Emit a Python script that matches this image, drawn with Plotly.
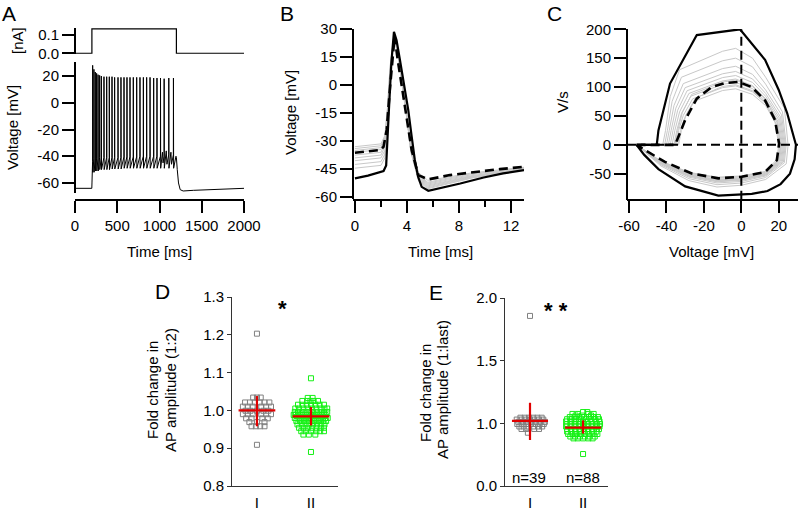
import plotly.graph_objects as go

W, H = 798, 509
def PX(x): return x / W
def PY(y): return 1 - y / H

FONT = "Liberation Sans, Arial, sans-serif"
RED = "#e00000"
GRAY_PT = "#808080"
GREEN_PT = "#16f016"
GRAY_LN = "#c8c8c8"

# ---------------- data ----------------
# Panel A: injected current (nA)
a_cur_t = [0, 200, 200, 1200, 1200, 2000]
a_cur_i = [0, 0, 0.133, 0.133, 0, 0]

# Panel A: membrane voltage (ms, mV)
a_t = [0, 199, 201, 205,
       208, 209, 211, 223, 224, 226, 239, 240, 242, 255, 256, 258, 272, 273, 275,
       291, 292, 294, 311, 312, 314, 342, 343, 345, 374, 375, 377, 405, 406, 408,
       437, 438, 440, 468, 469, 471, 508, 509, 511, 543, 544, 546, 579, 580, 582,
       614, 615, 617, 650, 651, 653, 689, 690, 692, 729, 730, 732, 768, 769, 771,
       808, 809, 811, 847, 848, 850, 887, 888, 890, 930, 931, 933, 969, 970, 972,
       1011, 1012, 1014, 1035, 1042,
       1054, 1055, 1057, 1080, 1088,
       1109, 1110, 1112, 1135, 1142,
       1164, 1165, 1167,
       1195, 1200, 1210, 1225, 1245, 1280, 1400, 1700, 2000]
a_v = [-64, -64, -60, -54,
       -44, 28, -52, -42, 25, -52, -42, 23, -51, -42, 22, -51, -42, 21, -51,
       -41, 20.5, -50, -41, 20, -50, -41, 19.5, -50, -41, 19.5, -50, -41, 19.5, -50,
       -41, 19.5, -49.5, -41, 19, -49.5, -41, 19, -49.5, -41, 19, -49.5, -40.5, 19, -49,
       -40.5, 19, -49, -40.5, 19, -49, -40.5, 19, -49, -40.5, 19, -49, -40, 19, -49,
       -40, 19, -49, -40, 19, -49, -40, 19, -49, -40, 18.5, -49, -40, 18.5, -49,
       -40, 18.5, -49, -37, -45,
       -40, 18, -49, -36, -46,
       -39, 18.5, -49, -37, -46,
       -39, 18.5, -49,
       -40, -41, -50, -60, -65, -66, -65.5, -64.5, -64]

# Panel B: first AP (solid), mean (dashed), individual later APs (gray)
b_first_t = [0, 1.0, 2.2, 2.4, 2.6, 2.8, 3.0, 3.2, 3.46, 3.8, 4.1, 4.35, 4.6, 4.85, 5.13, 5.64, 6.5, 8.1, 9.9, 11.4, 13]
b_first_v = [-50, -48.5, -46, -43, -15, 12, 28.5, 24, 13.4, 0, -13.4, -27, -40, -49, -54.5, -56.6, -55.3, -52.7, -49.5, -47.3, -45.5]
b_mean_t = [0, 1.95, 2.2, 2.44, 2.7, 2.95, 3.05, 3.3, 3.85, 4.36, 4.87, 5.64, 7.3, 9.36, 11.15, 13]
b_mean_v = [-36.2, -34.8, -33, -24, -1, 22, 26, 13, -11.6, -34.8, -48.2, -50.5, -48.2, -46.4, -45, -43.8]
b_gray_t = [0, 2.0, 2.3, 2.5, 2.7, 3.0, 3.3, 3.8, 4.3, 4.9, 5.6, 7, 9, 11, 13]
b_gray_v = [
    [-33, -31.5, -27, -12, 10, 26, 16, -8, -32, -47, -51, -49.5, -47, -45.5, -44],
    [-34, -32.5, -28, -13, 9, 26.5, 16, -8, -33, -48, -52, -50, -47.5, -46, -44.3],
    [-35, -33.5, -29, -14, 8, 27, 16.5, -8, -33, -48.5, -52.5, -50.5, -48, -46, -44.5],
    [-36, -34.5, -30, -15, 7, 27, 17, -7, -33.5, -49, -53, -51, -48.5, -46.5, -44.7],
    [-37.5, -36, -31, -16, 6, 27, 17, -7, -34, -49.5, -53.5, -51.5, -48.8, -46.8, -45],
    [-39, -37.5, -33, -17, 5, 27.5, 17.5, -6.5, -34.5, -50, -54, -52, -49, -47, -45.2],
    [-40.5, -39, -35, -18, 4, 27.5, 17.5, -6, -35, -50.5, -54.5, -52.3, -49.3, -47.2, -45.3],
    [-42.5, -41, -37, -20, 3, 28, 18, -6, -35.5, -51, -55, -52.7, -49.6, -47.4, -45.4],
    [-44.5, -43, -39, -22, 2, 28, 18, -5.5, -36, -51.5, -55.5, -53, -49.8, -47.5, -45.5],
]

# Panel C: phase plots (mV, V/s)
c_first_v = [-56, -45.2, -44.3, -38.1, -23.8, -0.7, 12.7, 20, 24.5, 28, 29.2, 28.5, 26, 21, 14, 5.6, -12.3, -30, -44.3, -52, -56]
c_first_dv = [0, 0, 25, 106, 190, 200, 147, 95, 55, 15, 0, -25, -50, -68, -80, -85, -88, -72, -42, -17, 0]
c_mean_v = [-56, -35.4, -33.5, -30, -23.8, -15.8, -8.7, -1.6, 5.6, 12.7, 18, 20.2, 19, 12.7, 0.2, -12.3, -26.5, -40.8, -51.5, -56]
c_mean_dv = [0, 0, 15, 43, 80, 100, 107, 109, 100, 77, 43, 2, -26.5, -47, -55.4, -58, -49.6, -29.5, -9.2, 0]
c_gray_v = [
    [-56, -42, -40.5, -38, -33, -10, -3, 6, 13, 23, 25, 24, 13, 0, -13, -28, -43, -51.5, -56],
    [-56, -41, -39.5, -37, -32, -10, -3, 6, 13, 22, 24, 23, 13, 0, -13, -28, -43, -51.5, -56],
    [-56, -40, -38.5, -36, -31, -10, -3, 6, 13, 21.5, 23.5, 22.5, 13, 0, -13, -28, -43, -51.5, -56],
    [-56, -39, -37.5, -35, -30, -10, -3, 6, 13, 21, 23, 22, 13, 0, -13, -28, -43, -51.5, -56],
    [-56, -38, -36.5, -34, -29, -10, -3, 6, 13, 20.5, 22.5, 21.5, 13, 0, -13, -28, -43, -51.5, -56],
    [-56, -37, -35.5, -33, -28, -10, -3, 6, 13, 20, 22, 21, 13, 0, -13, -28, -43, -51.5, -56],
    [-56, -36, -34.5, -32, -27, -10, -3, 6, 13, 19.5, 21.5, 20.5, 13, 0, -13, -28, -43, -51.5, -56],
    [-56, -35, -33.5, -31, -26, -10, -3, 6, 13, 19, 21, 20, 13, 0, -13, -28, -43, -51.5, -56],
    [-56, -34, -32.5, -30, -25, -10, -3, 6, 13, 18.5, 20.5, 19.5, 13, 0, -13, -28, -43, -51.5, -56],
    [-56, -35.5, -34, -31.5, -26.5, -10, -3, 6, 13, 19, 21, 20, 13, 0, -13, -28, -43, -51.5, -56],
    [-56, -33.5, -32, -29.5, -24.5, -10, -3, 6, 13, 18, 20, 19, 13, 0, -13, -28, -43, -51.5, -56],
]
c_gray_dv = [
    [0, 0, 25, 83.5, 130, 162, 167, 150, 117, 63.5, 0, -33, -60, -70, -73, -62, -36.5, -11.7, 0],
    [0, 0, 25, 75, 117, 145.5, 150, 135, 105, 57, 0, -31, -56.6, -66.2, -69, -58.6, -34.5, -11, 0],
    [0, 0, 25, 68, 106, 132, 136, 122, 95, 52, 0, -29.7, -54, -63.4, -66, -56, -33, -10.6, 0],
    [0, 0, 25, 63.5, 99, 123, 127, 114, 89, 48, 0, -28.8, -52.5, -61.4, -64, -54.4, -32, -10.2, 0],
    [0, 0, 25, 60, 93.6, 116.4, 120, 108, 84, 45.6, 0, -28.4, -51.7, -60.5, -63, -53.6, -31.5, -10, 0],
    [0, 0, 25, 57, 89, 110.6, 114, 102.6, 79.8, 43.3, 0, -27.9, -50.8, -59.5, -62, -52.7, -31, -9.9, 0],
    [0, 0, 25, 54, 84.2, 104.8, 108, 97.2, 75.6, 41, 0, -27.5, -50, -58.6, -61, -51.9, -30.5, -9.8, 0],
    [0, 0, 25, 51, 79.6, 99, 102, 91.8, 71.4, 38.8, 0, -27, -49.2, -57.6, -60, -51, -30, -9.6, 0],
    [0, 0, 25, 48.5, 75.7, 94, 97, 87.3, 67.9, 36.9, 0, -26.1, -47.6, -55.7, -58, -49.3, -29, -9.3, 0],
    [0, 0, 25, 56, 87.4, 108.6, 112, 100.8, 78.4, 42.6, 0, -25.7, -46.7, -54.7, -57, -48.5, -28.5, -9.1, 0],
    [0, 0, 25, 52, 81, 101, 104, 93.6, 72.8, 39.5, 0, -25.2, -45.9, -53.8, -56, -47.6, -28, -9, 0],
]
c_hline_v = [-61.1, 30.3]
c_hline_dv = [0, 0]
c_vline_v = [0, 0]
c_vline_dv = [-95, 200]

# Panel D: fold change AP amplitude (1:2); rows of values with jittered positions
d1_rows_y = [1.203, 0.909, 1.034, 1.021, 1.010, 0.999, 0.990, 0.979, 0.969, 0.958]
d1_rows_x = [[1.0], [1.0], [0.93, 1.0, 1.07], [0.78, 0.87, 0.96, 1.05, 1.14, 1.23],
             [0.74, 0.83, 0.92, 1.08, 1.17, 1.26], [0.79, 0.88, 1.0, 1.12, 1.21],
             [0.74, 0.83, 0.92, 1.08, 1.17, 1.26], [0.8, 0.9, 1.1, 1.2],
             [0.86, 1.0, 1.14], [0.9, 0.98, 1.06, 1.14]]
d2_rows_y = [1.085, 1.033, 1.025, 1.015, 1.005, 0.996, 0.988, 0.980, 0.972, 0.963, 0.954, 0.945, 0.936, 0.890]
d2_rows_x = [[2.0], [1.94, 2.03], [1.84, 1.93, 1.99, 2.05, 2.13],
             [1.76, 1.84, 1.92, 2.0, 2.08, 2.16, 2.24],
             [1.71, 1.78, 1.86, 1.94, 2.02, 2.1, 2.18, 2.25, 2.3],
             [1.7, 1.76, 1.83, 1.9, 1.97, 2.04, 2.11, 2.18, 2.24, 2.3],
             [1.68, 1.72, 1.79, 1.86, 1.93, 2.0, 2.07, 2.14, 2.21, 2.27],
             [1.7, 1.77, 1.84, 1.91, 1.98, 2.05, 2.12, 2.19, 2.26, 2.31],
             [1.73, 1.8, 1.87, 1.94, 2.01, 2.08, 2.15, 2.22, 2.28],
             [1.75, 1.83, 1.9, 1.97, 2.04, 2.11, 2.18, 2.25],
             [1.78, 1.86, 1.94, 2.02, 2.1, 2.18, 2.24],
             [1.82, 1.9, 2.0, 2.1, 2.17, 2.24],
             [1.86, 1.96, 2.08], [2.0]]
d_mean = [1.0, 0.984]
d_err_up = [0.038, 0.025]
d_err_dn = [0.042, 0.024]

# Panel E: fold change AP amplitude (1:last)
e1_rows_y = [1.857, 1.045, 1.030, 1.012, 0.995, 0.975, 0.955, 0.925]
e1_rows_x = [[1.0], [0.82, 0.9, 0.98, 1.06, 1.14, 1.22], [0.75, 0.84, 0.92, 1.0, 1.08, 1.17, 1.25],
             [0.78, 0.87, 0.95, 1.03, 1.11, 1.2, 1.28], [0.76, 0.84, 0.93, 1.02, 1.1, 1.18, 1.26],
             [0.8, 0.88, 0.97, 1.06, 1.15, 1.23], [0.84, 0.93, 1.08, 1.17], [0.96]]
e2_rows_y = [1.09, 1.075, 1.062, 1.05, 1.033, 1.015, 0.995, 0.975, 0.955, 0.935, 0.915, 0.895, 0.88, 0.755]
e2_rows_x = [[2.0, 2.08], [1.8, 1.9, 2.1, 2.2], [1.86, 1.98, 2.15],
             [1.75, 1.84, 1.93, 2.02, 2.11, 2.2, 2.28],
             [1.7, 1.78, 1.87, 1.96, 2.05, 2.14, 2.23, 2.3],
             [1.68, 1.76, 1.84, 1.92, 2.0, 2.08, 2.16, 2.24, 2.31],
             [1.7, 1.78, 1.86, 1.94, 2.02, 2.1, 2.18, 2.26, 2.32],
             [1.68, 1.76, 1.84, 1.92, 2.0, 2.08, 2.16, 2.24, 2.31],
             [1.7, 1.78, 1.86, 1.94, 2.02, 2.1, 2.18, 2.26, 2.3],
             [1.7, 1.77, 1.85, 1.93, 2.01, 2.09, 2.17, 2.25],
             [1.72, 1.8, 1.88, 1.96, 2.04, 2.12, 2.2, 2.27],
             [1.76, 1.85, 1.94, 2.03, 2.12, 2.22],
             [1.82, 1.9, 2.0, 2.1, 2.18], [2.0]]
e_mean = [1.02, 0.966]
e_err_up = [0.144, 0.058]
e_err_dn = [0.153, 0.048]

group_pos = [1, 2]
group_labels = ["I", "II"]
n_labels = ["n=39", "n=88"]


def flatten(rows_y, rows_x):
    xs, ys = [], []
    for yv, xrow in zip(rows_y, rows_x):
        for xv in xrow:
            xs.append(xv)
            ys.append(yv)
    return xs, ys


# ---------------- figure ----------------
fig = go.Figure()

def line(x, y, xa, ya, color="black", width=1, dash=None):
    fig.add_trace(go.Scatter(x=x, y=y, xaxis=xa, yaxis=ya, mode="lines",
                             line=dict(color=color, width=width, dash=dash),
                             hoverinfo="skip"))

# A
line(a_cur_t, a_cur_i, "x", "y", width=1.2)
line(a_t, a_v, "x2", "y2", width=1)
# B
for gv in b_gray_v:
    line(b_gray_t, gv, "x3", "y3", color=GRAY_LN, width=1)
line(b_first_t, b_first_v, "x3", "y3", width=2.2)
line(b_mean_t, b_mean_v, "x3", "y3", width=2.6, dash="9px,5px")
# C
for gv, gd in zip(c_gray_v, c_gray_dv):
    line(gv, gd, "x4", "y4", color=GRAY_LN, width=1)
line(c_hline_v, c_hline_dv, "x4", "y4", width=2, dash="9px,5px")
line(c_vline_v, c_vline_dv, "x4", "y4", width=2, dash="9px,5px")
line(c_first_v, c_first_dv, "x4", "y4", width=2.2)
line(c_mean_v, c_mean_dv, "x4", "y4", width=2.6, dash="9px,5px")

# D / E scatter
def squares(rows_y, rows_x, xa, ya, color):
    xs, ys = flatten(rows_y, rows_x)
    fig.add_trace(go.Scatter(x=xs, y=ys, xaxis=xa, yaxis=ya, mode="markers",
                             marker=dict(symbol="square-open", size=5, color=color,
                                         line=dict(width=1, color=color)),
                             hoverinfo="skip", cliponaxis=False))

def cross(means, up, dn, xa, ya):
    fig.add_trace(go.Scatter(x=group_pos, y=means, xaxis=xa, yaxis=ya, mode="markers",
                             marker=dict(size=1, color="rgba(0,0,0,0)"),
                             error_y=dict(type="data", symmetric=False, array=up, arrayminus=dn,
                                          color=RED, thickness=2.2, width=0),
                             error_x=dict(type="constant", value=0.34, color=RED, thickness=2.2, width=0),
                             hoverinfo="skip"))

squares(d1_rows_y, d1_rows_x, "x5", "y5", GRAY_PT)
squares(d2_rows_y, d2_rows_x, "x5", "y5", GREEN_PT)
cross(d_mean, d_err_up, d_err_dn, "x5", "y5")
squares(e1_rows_y, e1_rows_x, "x6", "y6", GRAY_PT)
squares(e2_rows_y, e2_rows_x, "x6", "y6", GREEN_PT)
cross(e_mean, e_err_up, e_err_dn, "x6", "y6")

# ---------------- axes ----------------
def ax_big(**kw):
    d = dict(showline=True, linewidth=2, linecolor="black", ticks="outside", ticklen=12,
             tickwidth=2, tickcolor="black", showgrid=False, zeroline=False, automargin=False,
             tickfont=dict(size=15, color="black", family=FONT), tickmode="array")
    d.update(kw)
    return d

def ax_small(**kw):
    d = dict(showline=True, linewidth=1, linecolor="#333333", ticks="outside", ticklen=4,
             tickwidth=1, tickcolor="#333333", showgrid=False, zeroline=False, automargin=False,
             tickfont=dict(size=15, color="black", family=FONT), tickmode="array")
    d.update(kw)
    return d

def labels(vals):
    return [str(v) for v in vals]

a_xt = [0, 500, 1000, 1500, 2000]
a_yt = [-60, -40, -20, 0, 20]
b_xt = [0, 4, 8, 12]
b_yt = [-60, -45, -30, -15, 0, 15, 30]
c_xt = [-60, -40, -20, 0, 20]
c_yt = [-50, 0, 50, 100, 150, 200]
d_yt = [0.8, 0.9, 1.0, 1.1, 1.2, 1.3]
e_yt = [0.5, 1.0, 1.5, 2.0]
e_ytxt = ["0.0", "1.0", "1.5", "2.0"]

fig.update_layout(
    width=W, height=H, margin=dict(l=0, r=0, t=0, b=0, pad=0, autoexpand=False),
    paper_bgcolor="white", plot_bgcolor="white", showlegend=False,
    font=dict(family=FONT, size=15, color="black"),
    xaxis=dict(domain=[PX(75), PX(244)], range=[0, 2000], visible=False, anchor="y", automargin=False),
    yaxis=ax_big(domain=[PY(54), PY(28)], range=[-0.004, 0.138], anchor="free", position=PX(75),
                 tickvals=[0, 0.1], ticktext=["0.0", "0.1"]),
    xaxis2=ax_big(domain=[PX(75), PX(244)], range=[0, 2000], anchor="free", position=PY(200),
                  tickvals=a_xt, ticktext=labels(a_xt)),
    yaxis2=ax_big(domain=[PY(193), PY(62)], range=[-67.5, 30.5], anchor="free", position=PX(75),
                  tickvals=a_yt, ticktext=labels(a_yt)),
    xaxis3=ax_big(domain=[PX(353), PX(524)], range=[-0.15, 13], anchor="free", position=PY(200),
                  tickvals=b_xt, ticktext=labels(b_xt),
                  minor=dict(tickmode="array", tickvals=[2, 6, 10], ticks="outside", ticklen=6,
                             tickwidth=2, tickcolor="black")),
    yaxis3=ax_big(domain=[PY(199), PY(29)], range=[-61, 30], anchor="free", position=PX(353),
                  tickvals=b_yt, ticktext=labels(b_yt)),
    xaxis4=ax_big(domain=[PX(627), 1.0], range=[-61.1, 30.3], anchor="free", position=PY(200),
                  tickvals=c_xt, ticktext=labels(c_xt)),
    yaxis4=ax_big(domain=[PY(200), PY(29)], range=[-95.5, 200.5], anchor="free", position=PX(627),
                  tickvals=c_yt, ticktext=labels(c_yt)),
    xaxis5=ax_small(domain=[PX(231), PX(338)], range=[0.52, 2.5], anchor="free", position=PY(486),
                    tickvals=group_pos, ticktext=group_labels, ticks="", ticklabelstandoff=3),
    yaxis5=ax_small(domain=[PY(486), PY(297)], range=[0.8, 1.3], anchor="free", position=PX(231),
                    tickvals=d_yt, ticktext=["%.1f" % v for v in d_yt]),
    xaxis6=ax_small(domain=[PX(504), PX(608)], range=[0.51, 2.47], anchor="free", position=PY(486),
                    tickvals=group_pos, ticktext=group_labels, ticks="", ticklabelstandoff=3),
    yaxis6=ax_small(domain=[PY(486), PY(298)], range=[0.5, 2.0], anchor="free", position=PX(504),
                    tickvals=e_yt, ticktext=e_ytxt),
)

def ann(text, x, y, size=15, angle=0, bold=False):
    fig.add_annotation(text=("<b>%s</b>" % text) if bold else text, x=PX(x), y=PY(y),
                       xref="paper", yref="paper", showarrow=False, textangle=angle,
                       xanchor="center", yanchor="middle",
                       font=dict(size=size, family=FONT, color="black"))

# panel letters
ann("A", 9, 14, size=21)
ann("B", 287, 14, size=21)
ann("C", 554, 14, size=21)
ann("D", 162, 291, size=21)
ann("E", 436, 292, size=21)
# axis titles
ann("[nA]", 17, 41, angle=-90)
ann("Voltage [mV]", 12, 128, angle=-90)
ann("Time [ms]", 159, 251)
ann("Voltage [mV]", 291, 113, angle=-90)
ann("Time [ms]", 440, 251)
ann("V/s", 562, 102, angle=-90)
ann("Voltage [mV]", 711, 251)
ann("Fold change in", 152, 390, angle=-90)
ann("AP amplitude (1:2)", 170, 390, angle=-90)
ann("Fold change in", 425, 393, angle=-90)
ann("AP amplitude (1:last)", 442, 390, angle=-90)
# significance and n
ann("*", 282, 308, size=22, bold=True)
ann("* *", 556, 310, size=22, bold=True)
ann(n_labels[0], 529, 477)
ann(n_labels[1], 583, 477)

fig.write_html("out.html",
               config={"displayModeBar": False, "staticPlot": True},
               post_script="document.body.style.margin='0';document.body.style.padding='0';")
